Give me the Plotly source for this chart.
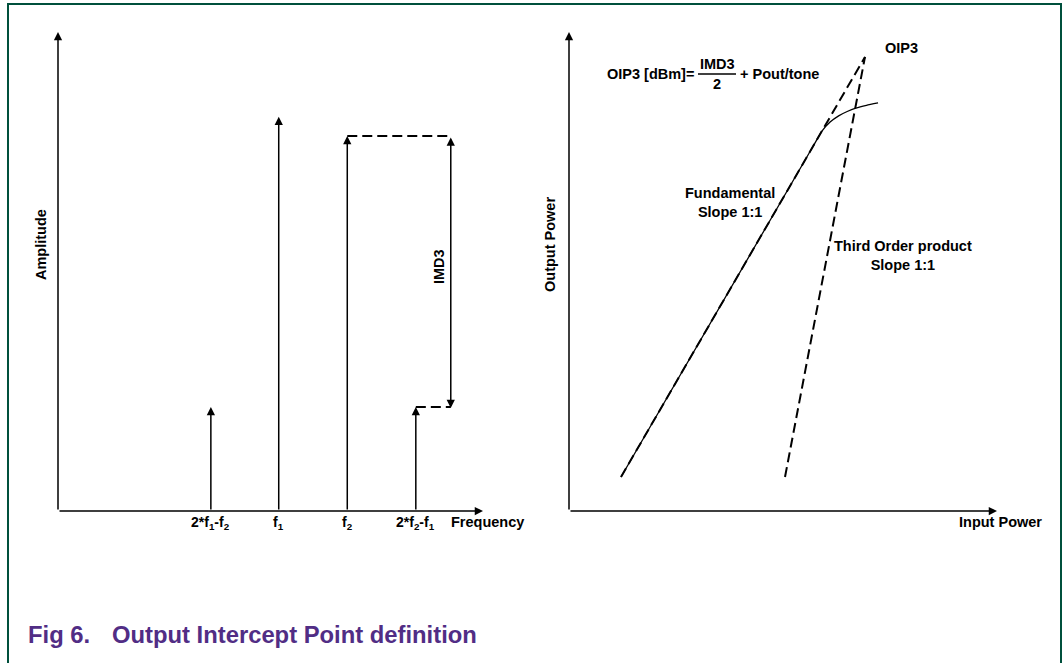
import plotly.graph_objects as go

W, H = 1063, 663

# ---------------- data ----------------
# Left panel: two-tone spectrum
tone_labels = ["2*f<sub>1</sub>-f<sub>2</sub>", "f<sub>1</sub>", "f<sub>2</sub>", "2*f<sub>2</sub>-f<sub>1</sub>"]
tone_freq = [2.23, 3.22, 4.22, 5.22]
tone_amp = [2.17, 8.23, 7.83, 2.17]
imd3_x = 5.73
imd3_top = 7.83
imd3_bottom = 2.15

# Right panel: output power vs input power
fund_in = [1.215, 6.916]          # fundamental asymptote (slope 1:1)
fund_out = [0.71, 9.48]
third_in = [5.047, 6.916]         # third order product asymptote
third_out = [0.71, 9.48]
comp_in = [1.215, 5.70, 5.91, 6.10, 6.30, 6.50, 6.70, 6.95, 7.22]   # real (compressed) output
comp_out = [0.71, 7.61, 7.93, 8.12, 8.25, 8.34, 8.41, 8.47, 8.52]

LX_MAX, LY_MAX = 6.2, 10
RX_MAX, RY_MAX = 10, 10


def px(x):
    return x / W


def py(y):
    return 1 - y / H


FONT = "Liberation Sans, Arial, sans-serif"
DASH = "10px,5px"
FS = 14.5

fig = go.Figure()

# dashed reference lines, left panel
fig.add_trace(go.Scatter(x=[tone_freq[2], imd3_x], y=[imd3_top, imd3_top], mode="lines",
                         line=dict(color="black", width=2, dash=DASH), xaxis="x", yaxis="y",
                         hoverinfo="skip", showlegend=False))
fig.add_trace(go.Scatter(x=[tone_freq[3], imd3_x], y=[tone_amp[3], tone_amp[3]], mode="lines",
                         line=dict(color="black", width=2, dash=DASH), xaxis="x", yaxis="y",
                         hoverinfo="skip", showlegend=False))

# right panel curves
fig.add_trace(go.Scatter(x=comp_in, y=comp_out, mode="lines", line=dict(color="black", width=1.3, shape="spline", smoothing=0.6),
                         xaxis="x2", yaxis="y2", hoverinfo="skip", showlegend=False))
fig.add_trace(go.Scatter(x=fund_in, y=fund_out, mode="lines", line=dict(color="black", width=2, dash=DASH),
                         xaxis="x2", yaxis="y2", hoverinfo="skip", showlegend=False))
fig.add_trace(go.Scatter(x=third_in, y=third_out, mode="lines", line=dict(color="black", width=2, dash=DASH),
                         xaxis="x2", yaxis="y2", hoverinfo="skip", showlegend=False))

ann = []


def arrow(x, y, ax, ay, xr, yr, both=False):
    d = dict(x=x, y=y, ax=ax, ay=ay, xref=xr, yref=yr, axref=xr, ayref=yr, text="",
             showarrow=True, arrowhead=2, arrowsize=1.1, arrowwidth=1.5, arrowcolor="black", standoff=0)
    if both:
        d.update(arrowside="end+start", startarrowhead=2, startarrowsize=1.1)
    ann.append(d)


# axes arrows
arrow(0, LY_MAX, 0, 0, "x", "y")
arrow(LX_MAX, 0, 0, 0, "x", "y")
arrow(0, RY_MAX, 0, 0, "x2", "y2")
arrow(RX_MAX, 0, 0, 0, "x2", "y2")

# tone arrows
for f, a in zip(tone_freq, tone_amp):
    arrow(f, a, f, 0, "x", "y")

# IMD3 double arrow
arrow(imd3_x, imd3_bottom, imd3_x, imd3_top, "x", "y", both=True)


def txt(s, x, y, size=FS, xanchor="center", yanchor="middle", angle=0, color="black", xref="paper", yref="paper"):
    ann.append(dict(text=s, x=x, y=y, xref=xref, yref=yref, showarrow=False, xanchor=xanchor, yanchor=yanchor,
                    textangle=angle, font=dict(family=FONT, size=size, color=color)))


# tone labels
for lab, f in zip(tone_labels, tone_freq):
    txt("<b>" + lab + "</b>", f, py(523), size=14, xref="x")

txt("<b>Frequency</b>", px(449), py(522), xanchor="left")
txt("<b>Amplitude</b>", px(41), py(245), angle=-90)
txt("<b>IMD3</b>", px(439), py(267), angle=-90)

txt("<b>Output Power</b>", px(550), py(245), angle=-90)
txt("<b>Input Power</b>", px(1044), py(522), xanchor="right")
txt("<b>OIP3</b>", px(883), py(48), xanchor="left")
txt("<b>Fundamental<br>Slope 1:1</b>", px(730), py(202))
txt("<b>Third Order product<br>Slope 1:1</b>", px(903), py(256))

# formula
txt("<b>OIP3 [dBm]=</b>", px(605), py(74), xanchor="left")
txt("<b>IMD3</b>", px(717), py(64))
txt("<b>2</b>", px(717), py(84))
txt("<b>+ Pout/tone</b>", px(738), py(74), xanchor="left")

# caption
CAP = "#512d85"
txt("<b>Fig 6.</b>", px(26), py(634), size=23.8, xanchor="left", color=CAP)
txt("<b>Output Intercept Point definition</b>", px(110), py(634), size=23.8, xanchor="left", color=CAP)

shapes = [
    # fraction bar
    dict(type="line", xref="paper", yref="paper", x0=px(698), x1=px(736), y0=py(74), y1=py(74),
         line=dict(color="black", width=1.5)),
    # frame
    dict(type="path", xref="paper", yref="paper",
         path=f"M {px(8)},-0.05 L {px(8)},{py(4)} L {px(1061)},{py(4)} L {px(1061)},-0.05",
         line=dict(color="#00503c", width=2)),
]

ax_common = dict(visible=False, showgrid=False, zeroline=False, fixedrange=True)
fig.update_layout(
    width=W, height=H, autosize=False,
    margin=dict(l=0, r=0, t=0, b=0),
    paper_bgcolor="white", plot_bgcolor="white",
    xaxis=dict(domain=[px(58), px(483)], range=[0, LX_MAX], **ax_common),
    yaxis=dict(domain=[py(511), py(32)], range=[0, LY_MAX], **ax_common),
    xaxis2=dict(domain=[px(569), px(997)], range=[0, RX_MAX], anchor="y2", **ax_common),
    yaxis2=dict(domain=[py(511), py(32)], range=[0, RY_MAX], anchor="x2", **ax_common),
    annotations=ann,
    shapes=shapes,
    showlegend=False,
)

fig.write_html("out.html", config={"displayModeBar": False},
               post_script="document.body.style.margin='0';document.body.style.overflow='hidden';")
